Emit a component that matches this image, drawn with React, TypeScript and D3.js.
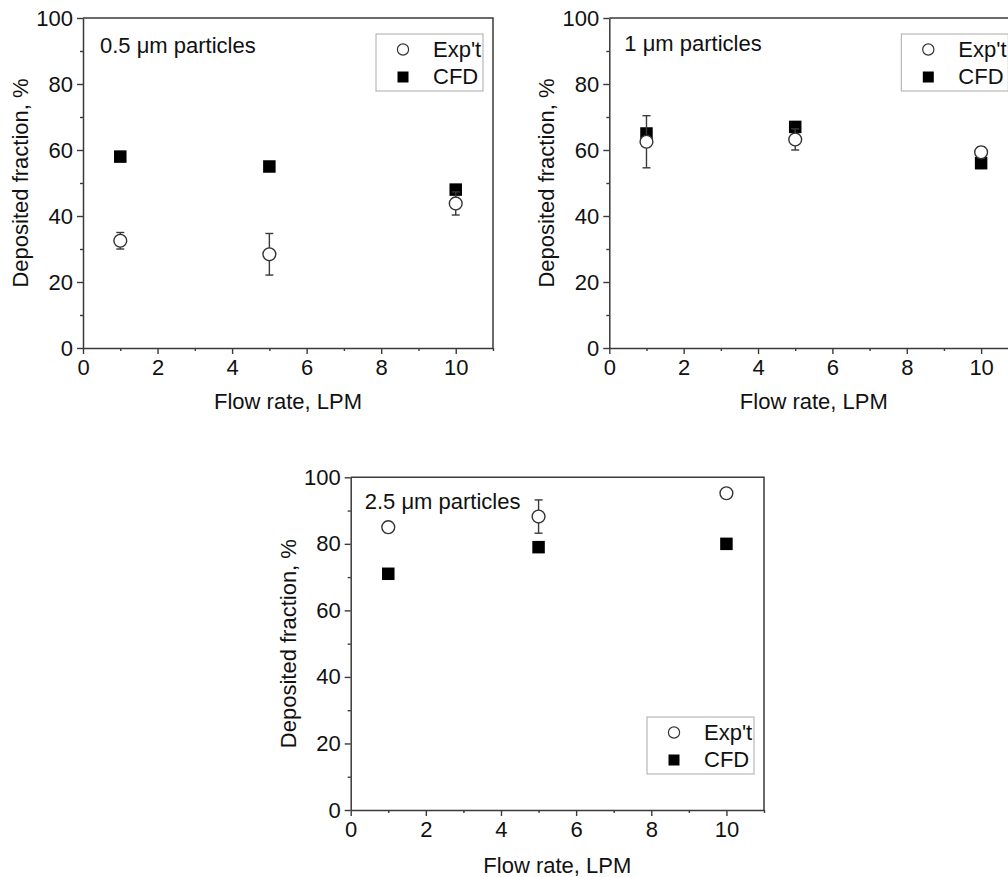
import React, { useEffect, useRef } from 'react';
import * as d3 from 'd3';

// flow rates, LPM
const flowRates = [1, 5, 10];

// 0.5 um particles
const exp05 = [32.5, 28.4, 43.8];
const expErr05 = [2.5, 6.3, 3.5];
const cfd05 = [58, 55, 48];

// 1 um particles
const exp1 = [62.5, 63.2, 59.3];
const expErr1 = [7.9, 3.2, 1.7];
const cfd1 = [65, 67, 56];

// 2.5 um particles
const exp25 = [85, 88.2, 95.2];
const expErr25 = [1.6, 5, 0.8];
const cfd25 = [71, 79, 80];

const panelLabels = ['0.5 \u03bcm particles', '1 \u03bcm particles', '2.5 \u03bcm particles'];
const legendLabels = ["Exp't", 'CFD'];
const xTicks = [0, 2, 4, 6, 8, 10];
const xMinor = [1, 3, 5, 7, 9, 11];
const yTicks = [0, 20, 40, 60, 80, 100];
const yMinor = [10, 30, 50, 70, 90];

const FONT = '"Liberation Sans", Arial, sans-serif';
const FS = 22;
const AXIS = '#3a3a3a';

const panels = [
  { label: panelLabels[0], exp: exp05, err: expErr05, cfd: cfd05, left: 83, top: 18, width: 410, height: 330, legendBottom: false, labelPos: [17, 35], titleDy: 61 },
  { label: panelLabels[1], exp: exp1, err: expErr1, cfd: cfd1, left: 609.3, top: 18, width: 409, height: 330, legendBottom: false, labelPos: [15, 33], titleDy: 61 },
  { label: panelLabels[2], exp: exp25, err: expErr25, cfd: cfd25, left: 350.7, top: 477.3, width: 413.3, height: 332.7, legendBottom: true, labelPos: [14, 32], titleDy: 63 },
];

const App = () => {
  const ref = useRef<SVGSVGElement>(null);

  useEffect(() => {
    const svg = d3.select(ref.current);
    svg.selectAll('*').remove();

    panels.forEach(p => {
      const g = svg.append('g').attr('transform', `translate(${p.left},${p.top})`);
      const x = d3.scaleLinear().domain([0, 11]).range([0, p.width]);
      const y = d3.scaleLinear().domain([0, 100]).range([p.height, 0]);

      // frame (top + right)
      g.append('path')
        .attr('d', `M0,0H${p.width}V${p.height}`)
        .attr('fill', 'none')
        .attr('stroke', AXIS)
        .attr('stroke-width', 1.5);

      // minor ticks
      g.append('g')
        .attr('transform', `translate(0,${p.height})`)
        .call(d3.axisBottom(x).tickValues(xMinor).tickSize(3).tickFormat(() => ''))
        .call(a => a.select('.domain').remove());
      g.append('g')
        .call(d3.axisLeft(y).tickValues(yMinor).tickSize(3).tickFormat(() => ''))
        .call(a => a.select('.domain').remove());

      // major axes
      const xa = g.append('g')
        .attr('transform', `translate(0,${p.height})`)
        .call(d3.axisBottom(x).tickValues(xTicks).tickSize(6).tickSizeOuter(0).tickPadding(5));
      const ya = g.append('g')
        .call(d3.axisLeft(y).tickValues(yTicks).tickSize(6).tickSizeOuter(0).tickPadding(4));

      svg.selectAll('.tick line').attr('stroke', AXIS).attr('stroke-width', 1.4);
      [xa, ya].forEach(a => {
        a.select('.domain').attr('stroke', AXIS).attr('stroke-width', 1.5);
        a.selectAll('text').attr('font-family', FONT).attr('font-size', FS).attr('fill', '#111');
      });

      // axis titles
      g.append('text')
        .attr('x', p.width / 2)
        .attr('y', p.height + p.titleDy)
        .attr('text-anchor', 'middle')
        .attr('font-family', FONT)
        .attr('font-size', FS)
        .attr('fill', '#111')
        .text('Flow rate, LPM');
      g.append('text')
        .attr('transform', `translate(-55,${p.height / 2}) rotate(-90)`)
        .attr('text-anchor', 'middle')
        .attr('font-family', FONT)
        .attr('font-size', FS)
        .attr('fill', '#111')
        .text('Deposited fraction, %');

      // particle size label
      g.append('text')
        .attr('x', p.labelPos[0])
        .attr('y', p.labelPos[1])
        .attr('font-family', FONT)
        .attr('font-size', FS)
        .attr('fill', '#111')
        .text(p.label);

      // CFD squares
      const sq = 12.5;
      g.selectAll('.cfd')
        .data(p.cfd)
        .enter().append('rect')
        .attr('class', 'cfd')
        .attr('x', (d, i) => x(flowRates[i]) - sq / 2)
        .attr('y', d => y(d) - sq / 2)
        .attr('width', sq)
        .attr('height', sq)
        .attr('fill', '#000');

      // error bars
      const eb = g.selectAll('.err')
        .data(p.exp)
        .enter().append('g')
        .attr('class', 'err')
        .attr('stroke', AXIS)
        .attr('stroke-width', 1.4);
      eb.append('line')
        .attr('x1', (d, i) => x(flowRates[i]))
        .attr('x2', (d, i) => x(flowRates[i]))
        .attr('y1', (d, i) => y(d - p.err[i]))
        .attr('y2', (d, i) => y(d + p.err[i]));
      [-1, 1].forEach(s => {
        eb.append('line')
          .attr('x1', (d, i) => x(flowRates[i]) - 4)
          .attr('x2', (d, i) => x(flowRates[i]) + 4)
          .attr('y1', (d, i) => y(d + s * p.err[i]))
          .attr('y2', (d, i) => y(d + s * p.err[i]));
      });

      // Exp't circles
      g.selectAll('.exp')
        .data(p.exp)
        .enter().append('circle')
        .attr('class', 'exp')
        .attr('cx', (d, i) => x(flowRates[i]))
        .attr('cy', d => y(d))
        .attr('r', 6.4)
        .attr('fill', '#fff')
        .attr('stroke', '#333')
        .attr('stroke-width', 1.4);

      // legend
      const lw = 107, lh = 57;
      const lx = p.width - 10 - lw;
      const ly = p.legendBottom ? p.height - 36 - lh : 16;
      const lg = g.append('g').attr('transform', `translate(${lx},${ly})`);
      lg.append('rect')
        .attr('width', lw)
        .attr('height', lh)
        .attr('fill', '#fff')
        .attr('stroke', '#aaa')
        .attr('stroke-width', 1);
      lg.append('circle')
        .attr('cx', 27).attr('cy', 15.5).attr('r', 5.6)
        .attr('fill', '#fff').attr('stroke', '#333').attr('stroke-width', 1.2);
      lg.append('rect')
        .attr('x', 27 - 5.5).attr('y', 43 - 5.5).attr('width', 11).attr('height', 11)
        .attr('fill', '#000');
      lg.selectAll('.lt')
        .data(legendLabels)
        .enter().append('text')
        .attr('class', 'lt')
        .attr('x', 57)
        .attr('y', (d, i) => 23 + i * 26.5)
        .attr('font-family', FONT)
        .attr('font-size', FS)
        .attr('fill', '#111')
        .text(d => d);
    });
  }, []);

  return (
    <svg
      ref={ref}
      width={1008}
      height={877}
      style={{ position: 'absolute', left: 0, top: 0, background: '#fff', overflow: 'hidden' }}
    />
  );
};

export default App;
